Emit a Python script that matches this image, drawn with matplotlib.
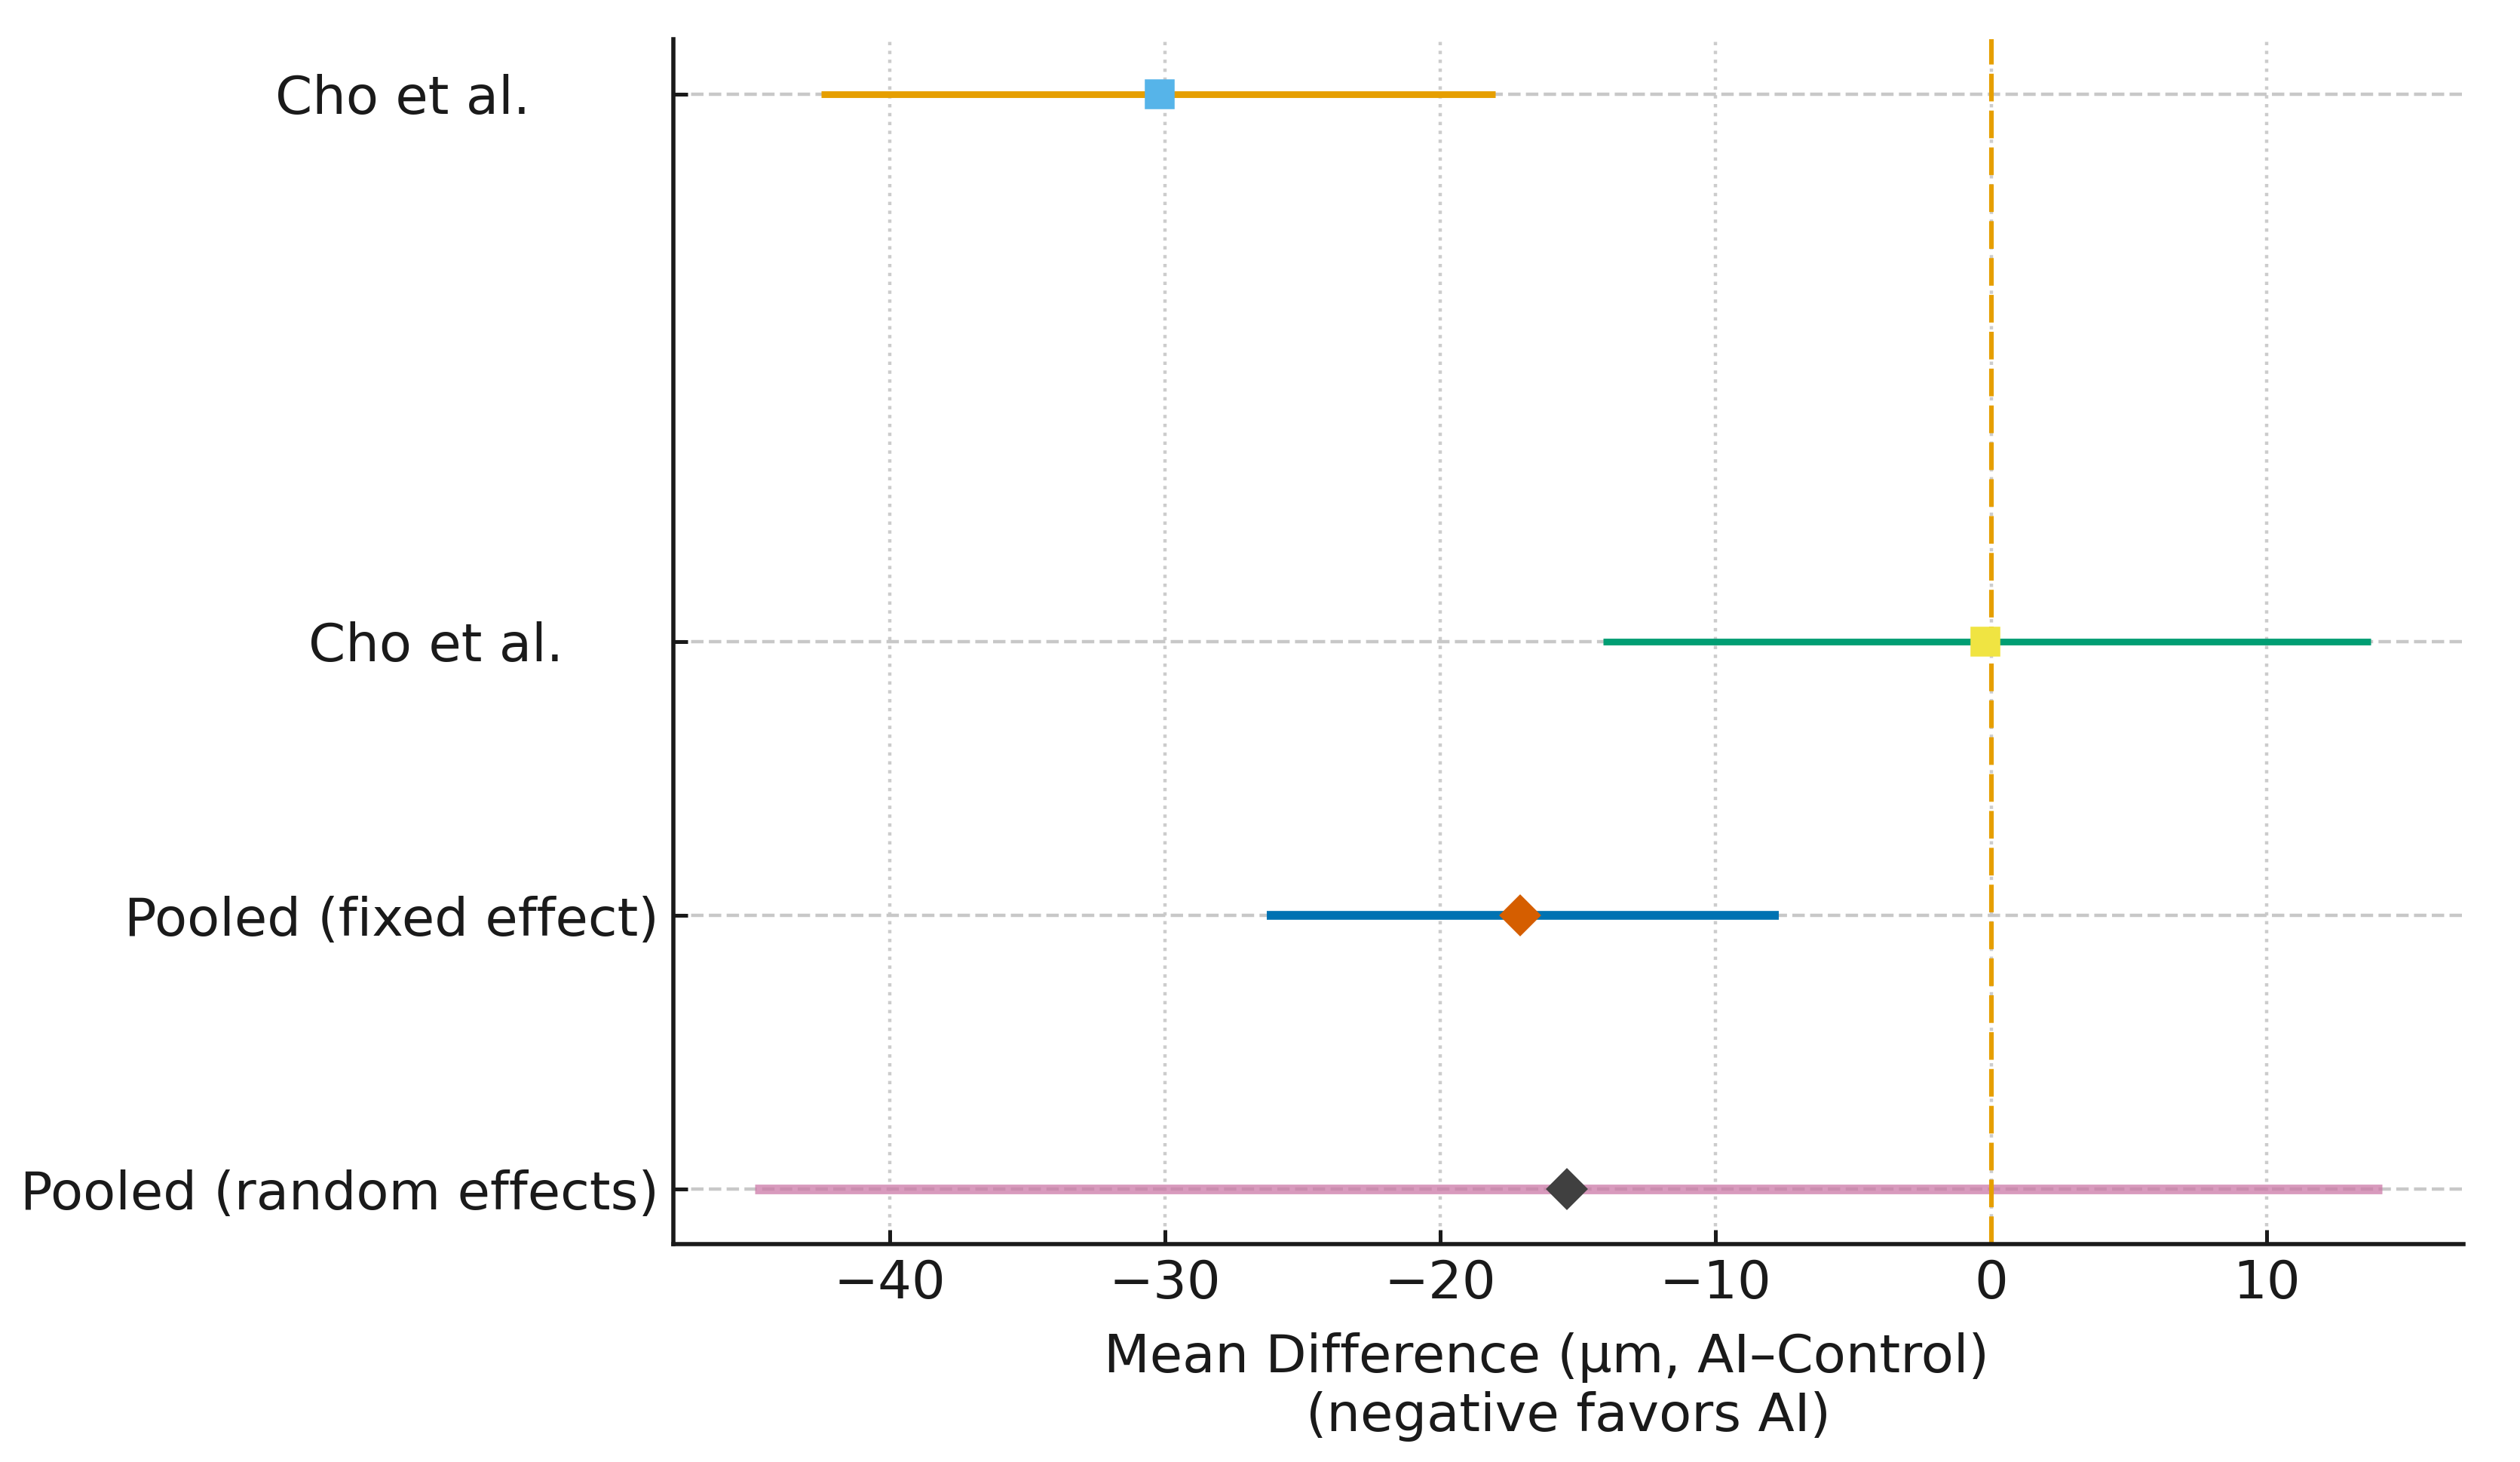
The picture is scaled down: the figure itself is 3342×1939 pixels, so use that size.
import matplotlib
matplotlib.use("Agg")
import matplotlib.pyplot as plt

# ---- data ----
labels = ["Cho et al.       \u2009", "Cho et al.     \u2009", "Pooled (fixed effect)", "Pooled (random effects)"]
ypos = [4, 2, 1, 0]
estimates = [-30.2, -0.2, -17.1, -15.4]
ci_low = [-42.5, -14.1, -26.3, -44.9]
ci_high = [-18.0, 13.8, -7.7, 14.2]
line_colors = ["#E69F00", "#009E73", "#0072B2", "#CC79A7"]
marker_colors = ["#56B4E9", "#F0E442", "#D55E00", "#404040"]
markers = ["s", "s", "D", "D"]
line_widths = [1.6, 1.6, 2.1, 2.3]
line_alphas = [1.0, 1.0, 1.0, 0.75]
xlabel_text = "Mean Difference (µm, AI–Control)  \u2009\n(negative favors AI)"

plt.rcParams['font.family'] = ['DejaVu Sans']
plt.rcParams['font.size'] = 12.7
txt = "#1a1a1a"

fig = plt.figure(figsize=(3342 / 400, 1939 / 400), dpi=400)
ax = fig.add_axes([893 / 3342, 1 - 1650 / 1939, (3267 - 893) / 3342, (1650 - 52) / 1939])

ax.grid(axis='x', linestyle=':', color='#cccccc', linewidth=0.8)
ax.grid(axis='y', linestyle='--', color='#c8c8c8', linewidth=0.8)
ax.set_axisbelow(True)

for i in range(len(labels)):
    ax.plot([ci_low[i], ci_high[i]], [ypos[i], ypos[i]], color=line_colors[i],
            lw=line_widths[i], alpha=line_alphas[i], solid_capstyle='butt', zorder=2)
    ax.plot([estimates[i]], [ypos[i]], marker=markers[i], color=marker_colors[i],
            markersize=6.2, linestyle='none', zorder=3)

ax.axvline(0, color="#E69F00", linestyle=(0, (6, 2)), lw=1.1, zorder=2.5)

ax.set_yticks(ypos)
ax.set_yticklabels(labels)
ax.set_xticks([-40, -30, -20, -10, 0, 10])
ax.set_xlabel(xlabel_text, color=txt, labelpad=5.5)

for s in ['top', 'right']:
    ax.spines[s].set_visible(False)
for s in ['left', 'bottom']:
    ax.spines[s].set_color(txt)
    ax.spines[s].set_linewidth(1.0)
ax.tick_params(colors=txt, labelcolor=txt, length=3.5, width=0.9, direction='in')

fig.savefig("out.png", dpi=400, facecolor='white')
